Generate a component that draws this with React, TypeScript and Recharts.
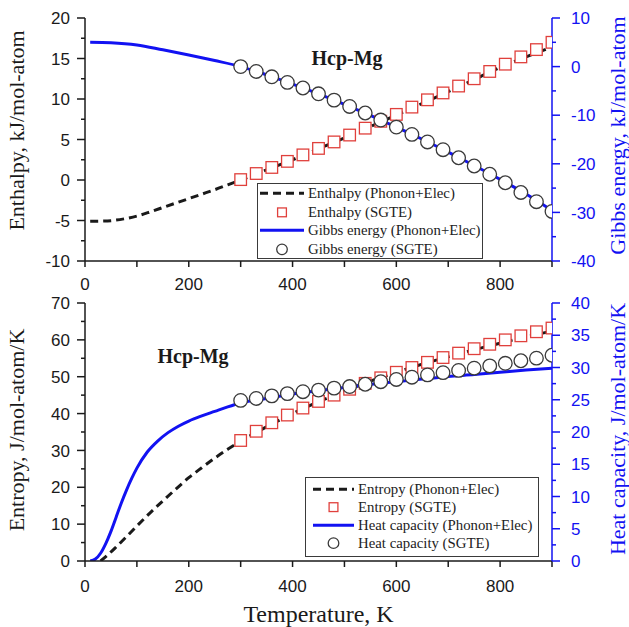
import React from 'react';
import { ComposedChart, Line, Scatter, XAxis, YAxis, Legend, Customized } from 'recharts';

// SGTE reference points (every 30 K)
const sgteT = [300, 330, 360, 390, 420, 450, 480, 510, 540, 570, 600, 630, 660, 690, 720, 750, 780, 810, 840, 870, 900];
const enthalpySgte = [0.05, 0.8, 1.55, 2.3, 3.1, 3.9, 4.7, 5.55, 6.4, 7.25, 8.1, 9.0, 9.9, 10.75, 11.6, 12.5, 13.4, 14.3, 15.2, 16.1, 17.0];
const gibbsSgte = [0.0, -1.0, -2.1, -3.25, -4.4, -5.6, -6.9, -8.2, -9.55, -11.0, -12.45, -13.95, -15.5, -17.1, -18.75, -20.45, -22.15, -23.9, -25.9, -27.8, -29.8];
const entropySgte = [32.7, 35.2, 37.5, 39.6, 41.5, 43.3, 45.0, 46.6, 48.2, 49.7, 51.2, 52.5, 53.9, 55.2, 56.4, 57.6, 58.8, 60.0, 61.1, 62.2, 63.2];
const cpSgte = [24.9, 25.2, 25.6, 25.95, 26.25, 26.5, 26.8, 27.05, 27.4, 27.8, 28.15, 28.5, 28.85, 29.2, 29.55, 29.9, 30.25, 30.65, 31.05, 31.45, 31.9];

// phonon + electron calculations
const hT = [10, 30, 50, 75, 100, 125, 150, 175, 200, 225, 250, 275, 300, 350, 400, 450, 500, 550, 600, 650, 700, 750, 800, 850, 900];
const enthalpyPE = [-5.1, -5.08, -5.02, -4.8, -4.45, -3.95, -3.4, -2.85, -2.3, -1.75, -1.2, -0.6, 0.0, 1.25, 2.5, 3.85, 5.2, 6.6, 8.0, 9.45, 10.9, 12.4, 13.9, 15.2, 16.4];
const gT = [10, 50, 100, 150, 200, 250, 300, 350, 400, 450, 500, 550, 600, 650, 700, 750, 800, 850, 900];
const gibbsPE = [5.0, 4.9, 4.45, 3.45, 2.4, 1.25, 0.0, -1.7, -3.6, -5.6, -7.75, -10.05, -12.45, -14.95, -17.6, -20.35, -23.2, -26.2, -29.6];
const sT = [30, 45, 60, 80, 100, 125, 150, 175, 200, 225, 250, 275, 300, 350, 400, 450, 500, 550, 600, 650, 700, 750, 800, 850, 900];
const entropyPE = [0, 1.8, 3.8, 6.6, 9.5, 13.0, 16.3, 19.5, 22.6, 25.3, 27.9, 30.3, 32.5, 36.4, 40.0, 43.2, 46.1, 48.8, 51.2, 53.4, 55.4, 57.3, 59.1, 60.8, 62.4];
const cpT = [10, 20, 30, 40, 50, 60, 70, 80, 90, 100, 120, 140, 160, 180, 200, 225, 250, 275, 300, 350, 400, 450, 500, 550, 600, 650, 700, 750, 800, 850, 900];
const cpPE = [0, 0.3, 1.2, 2.7, 4.6, 6.8, 9.0, 11.0, 12.8, 14.4, 16.9, 18.6, 19.9, 20.9, 21.7, 22.5, 23.2, 23.9, 24.5, 25.2, 25.9, 26.4, 26.9, 27.4, 27.8, 28.2, 28.6, 28.9, 29.25, 29.6, 29.9];

// axis ticks
const tTicks = [0, 100, 200, 300, 400, 500, 600, 700, 800, 900];
const hTicks = [-10, -7.5, -5, -2.5, 0, 2.5, 5, 7.5, 10, 12.5, 15, 17.5, 20];
const gTicks = [-40, -35, -30, -25, -20, -15, -10, -5, 0, 5, 10];
const sTicks = [0, 5, 10, 15, 20, 25, 30, 35, 40, 45, 50, 55, 60, 65, 70];
const cpTicks = [0, 2.5, 5, 7.5, 10, 12.5, 15, 17.5, 20, 22.5, 25, 27.5, 30, 32.5, 35, 37.5, 40];

const BLACK = '#1a1a1a';
const BLUE = '#1212f2';
const RED = '#e0403c';
const GRAY = '#3a3a3a';
const SANS = '"Liberation Sans", Arial, sans-serif';
const SERIF = '"Liberation Serif", "Times New Roman", serif';

const pts = (ts: number[], vs: number[]) => ts.map((T, i) => ({ T, v: vs[i] }));

const isMajor = (v: number, step: number) => Math.abs(v / step - Math.round(v / step)) < 1e-6;

function yTick(side: 'left' | 'right', step: number, color: string) {
  return (props: any) => {
    const { x, y, payload } = props;
    const v = payload.value;
    const major = isMajor(v, step);
    const dir = side === 'left' ? -1 : 1;
    return (
      <g>
        <line x1={x} x2={x + dir * (major ? 8 : 4)} y1={y} y2={y} stroke={color} strokeWidth={1.5} />
        {major && (
          <text x={side === 'left' ? x - 15 : x + 19} y={y} dy="0.36em"
            textAnchor={side === 'left' ? 'end' : 'start'} fill={color} fontSize={17} fontFamily={SANS}>
            {v}
          </text>
        )}
      </g>
    );
  };
}

function xTick(labelDy: number) {
  return (props: any) => {
    const { x, y, payload } = props;
    const v = payload.value;
    return (
      <g>
        <line x1={x} x2={x} y1={y} y2={y + 6} stroke={BLACK} strokeWidth={1.5} />
        {isMajor(v, 200) && (
          <text x={x} y={y + labelDy} textAnchor="middle" fill={BLACK} fontSize={17} fontFamily={SANS}>{v}</text>
        )}
      </g>
    );
  };
}

// inward ticks on the top frame
const topTick = (props: any) => (
  <line x1={props.x} x2={props.x} y1={props.y} y2={props.y + 6} stroke={BLACK} strokeWidth={1.5} />
);

function vTitle(text: string, color: string, dx: number, shift: number) {
  return (props: any) => {
    const vb = props.viewBox;
    const cx = vb.x + dx;
    const cy = vb.y + vb.height / 2 + shift;
    return (
      <text x={cx} y={cy} transform={`rotate(-90 ${cx} ${cy})`} textAnchor="middle"
        fill={color} fontSize={22} fontFamily={SERIF}>
        {text}
      </text>
    );
  };
}

const xTitle = (props: any) => {
  const vb = props.viewBox;
  return (
    <text x={vb.x + vb.width / 2} y={vb.y + 61} textAnchor="middle" fill={BLACK} fontSize={24} fontFamily={SERIF}>
      Temperature, K
    </text>
  );
};

const SquareMark = (p: any) => (
  <rect x={p.cx - 5.8} y={p.cy - 5.8} width={11.6} height={11.6} fill="#fff" stroke={RED} strokeWidth={1.3} />
);
const CircleMark = (p: any) => (
  <circle cx={p.cx} cy={p.cy} r={6.8} fill="#fff" stroke={GRAY} strokeWidth={1.3} />
);

function LegendBox({ payload, padL, symW, rowH, padT }: any) {
  return (
    <div style={{
      border: `1.5px solid ${GRAY}`, background: '#fff', boxSizing: 'border-box', width: '100%', height: '100%',
      paddingLeft: padL, paddingTop: padT, fontFamily: SERIF, fontSize: 14.8, color: '#222',
    }}>
      {(payload || []).map((e: any) => {
        const mid = rowH / 2;
        let sym: React.ReactNode = null;
        if (e.type === 'square') {
          sym = <rect x={symW / 2 - 4.4} y={mid - 4.4} width={8.8} height={8.8} fill="#fff" stroke={e.color} strokeWidth={1.3} />;
        } else if (e.type === 'circle') {
          sym = <circle cx={symW / 2} cy={mid} r={5.3} fill="#fff" stroke={e.color} strokeWidth={1.3} />;
        } else {
          sym = <line x1={0} x2={symW} y1={mid} y2={mid} stroke={e.color} strokeWidth={3}
            strokeDasharray={e.payload?.strokeDasharray} />;
        }
        return (
          <div key={e.value} style={{ display: 'flex', alignItems: 'center', height: rowH, whiteSpace: 'nowrap' }}>
            <svg width={symW} height={rowH} style={{ display: 'block' }}>{sym}</svg>
            <span style={{ marginLeft: 4, lineHeight: `${rowH}px` }}>{e.value}</span>
          </div>
        );
      })}
    </div>
  );
}

function TopChart() {
  return (
    <ComposedChart width={629} height={300} margin={{ top: 18, right: 0, bottom: 0, left: 0 }}>
      <XAxis xAxisId="b" dataKey="T" type="number" domain={[0, 900]} ticks={tTicks} interval={0} height={39}
        allowDataOverflow tickSize={0} tickMargin={0} tick={xTick(29)} axisLine={{ stroke: BLACK, strokeWidth: 1.5 }} tickLine={false} />
      <XAxis xAxisId="t" orientation="top" dataKey="T" type="number" domain={[0, 900]} ticks={tTicks} interval={0} height={0}
        allowDataOverflow tickSize={0} tickMargin={0} tick={topTick} axisLine={{ stroke: BLACK, strokeWidth: 1.5 }} tickLine={false} />
      <YAxis yAxisId="l" type="number" domain={[-10, 20]} ticks={hTicks} interval={0} width={85} allowDataOverflow
        tickSize={0} tickMargin={0} tick={yTick('left', 5, BLACK)} tickLine={false} axisLine={{ stroke: BLACK, strokeWidth: 1.5 }}
        label={{ content: vTitle('Enthalpy, kJ/mol-atom', BLACK, 24, -9) }} />
      <YAxis yAxisId="r" orientation="right" type="number" domain={[-40, 10]} ticks={gTicks} interval={0} width={77} allowDataOverflow
        tickSize={0} tickMargin={0} tick={yTick('right', 10, BLUE)} tickLine={false} axisLine={{ stroke: BLUE, strokeWidth: 1.5 }}
        label={{ content: vTitle('Gibbs energy, kJ/mol-atom', BLUE, 73, -4) }} />
      <Line xAxisId="b" yAxisId="l" data={pts(hT, enthalpyPE)} dataKey="v" name="Enthalpy (Phonon+Elec)" type="monotone"
        stroke={BLACK} strokeWidth={3} strokeDasharray="8 5" dot={false} activeDot={false} legendType="plainline" isAnimationActive={false} />
      <Line xAxisId="b" yAxisId="r" data={pts(gT, gibbsPE)} dataKey="v" name="Gibbs energy (Phonon+Elec)" type="monotone"
        stroke={BLUE} strokeWidth={3} dot={false} activeDot={false} legendType="line" isAnimationActive={false} />
      <Scatter xAxisId="b" yAxisId="l" data={pts(sgteT, enthalpySgte)} dataKey="v" name="Enthalpy (SGTE)" fill={RED}
        shape={SquareMark} legendType="square" isAnimationActive={false} />
      <Scatter xAxisId="b" yAxisId="r" data={pts(sgteT, gibbsSgte)} dataKey="v" name="Gibbs energy (SGTE)" fill={GRAY}
        shape={CircleMark} legendType="circle" isAnimationActive={false} />
      <Legend layout="vertical" align="center" verticalAlign="middle"
        wrapperStyle={{ left: 257, top: 183, width: 226, height: 76 }}
        content={(p: any) => <LegendBox payload={p.payload} padL={2} symW={44} rowH={18.7} padT={-2} />} />
      <Customized component={
        <text x={347} y={65} textAnchor="middle" fontSize={20} fontWeight="bold" fontFamily={SERIF} fill={BLACK}>Hcp-Mg</text>
      } />
    </ComposedChart>
  );
}

function BottomChart() {
  return (
    <ComposedChart width={629} height={342} margin={{ top: 18, right: 0, bottom: 0, left: 0 }}>
      <XAxis xAxisId="b" dataKey="T" type="number" domain={[0, 900]} ticks={tTicks} interval={0} height={66}
        allowDataOverflow tickSize={0} tickMargin={0} tick={xTick(31)} axisLine={{ stroke: BLACK, strokeWidth: 1.5 }} tickLine={false}
        label={{ content: xTitle }} />
      <XAxis xAxisId="t" orientation="top" dataKey="T" type="number" domain={[0, 900]} ticks={tTicks} interval={0} height={0}
        allowDataOverflow tickSize={0} tickMargin={0} tick={topTick} axisLine={{ stroke: BLACK, strokeWidth: 1.5 }} tickLine={false} />
      <YAxis yAxisId="l" type="number" domain={[0, 70]} ticks={sTicks} interval={0} width={85} allowDataOverflow
        tickSize={0} tickMargin={0} tick={yTick('left', 10, BLACK)} tickLine={false} axisLine={{ stroke: BLACK, strokeWidth: 1.5 }}
        label={{ content: vTitle('Entropy, J/mol-atom/K', BLACK, 24, -2) }} />
      <YAxis yAxisId="r" orientation="right" type="number" domain={[0, 40]} ticks={cpTicks} interval={0} width={77} allowDataOverflow
        tickSize={0} tickMargin={0} tick={yTick('right', 5, BLUE)} tickLine={false} axisLine={{ stroke: BLUE, strokeWidth: 1.5 }}
        label={{ content: vTitle('Heat capacity, J/mol-atom/K', BLUE, 73, -3) }} />
      <Line xAxisId="b" yAxisId="l" data={pts(sT, entropyPE)} dataKey="v" name="Entropy (Phonon+Elec)" type="monotone"
        stroke={BLACK} strokeWidth={3} strokeDasharray="8 5" dot={false} activeDot={false} legendType="plainline" isAnimationActive={false} />
      <Line xAxisId="b" yAxisId="r" data={pts(cpT, cpPE)} dataKey="v" name="Heat capacity (Phonon+Elec)" type="monotone"
        stroke={BLUE} strokeWidth={3} dot={false} activeDot={false} legendType="line" isAnimationActive={false} />
      <Scatter xAxisId="b" yAxisId="l" data={pts(sgteT, entropySgte)} dataKey="v" name="Entropy (SGTE)" fill={RED}
        shape={SquareMark} legendType="square" isAnimationActive={false} />
      <Scatter xAxisId="b" yAxisId="r" data={pts(sgteT, cpSgte)} dataKey="v" name="Heat capacity (SGTE)" fill={GRAY}
        shape={CircleMark} legendType="circle" isAnimationActive={false} />
      <Legend layout="vertical" align="center" verticalAlign="middle"
        wrapperStyle={{ left: 305, top: 192, width: 234, height: 80 }}
        content={(p: any) => <LegendBox payload={p.payload} padL={7} symW={41} rowH={18.3} padT={1.5} />} />
      <Customized component={
        <text x={193} y={78} textAnchor="middle" fontSize={20} fontWeight="bold" fontFamily={SERIF} fill={BLACK}>Hcp-Mg</text>
      } />
    </ComposedChart>
  );
}

export default function App() {
  return (
    <div style={{ position: 'absolute', left: 0, top: 0, width: 629, height: 627, background: '#fff', overflow: 'hidden' }}>
      <div style={{ position: 'absolute', left: 0, top: 0 }}>
        <TopChart />
      </div>
      <div style={{ position: 'absolute', left: 0, top: 285 }}>
        <BottomChart />
      </div>
    </div>
  );
}
